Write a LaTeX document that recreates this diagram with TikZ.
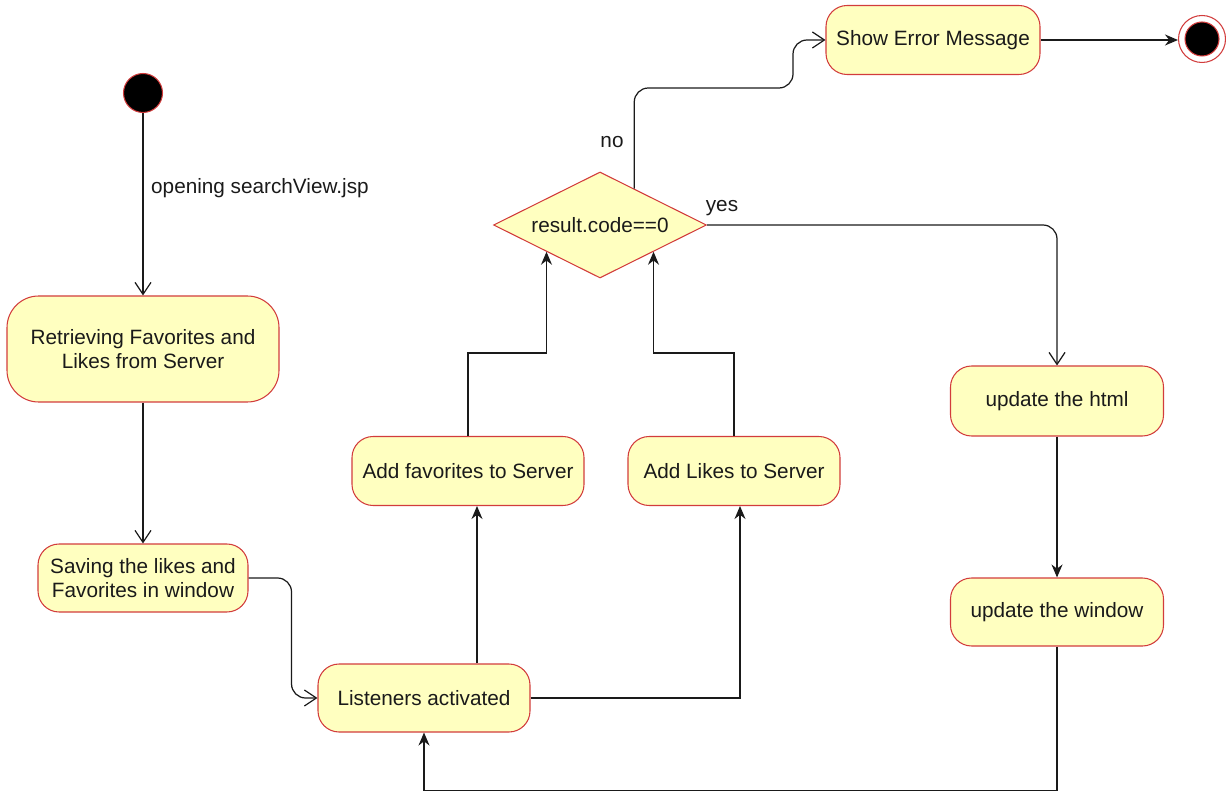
\documentclass[tikz,border=0pt]{standalone}
\usepackage{fontspec}
\setmainfont{Liberation Sans}
\usetikzlibrary{arrows.meta,shapes.geometric,calc}
\definecolor{ink}{HTML}{1A1A1A}
\definecolor{edge}{HTML}{D23C3C}
\definecolor{note}{HTML}{FFFFC0}

\begin{document}
\begin{tikzpicture}[
  text=ink,
  font=\fontsize{11.8}{13.4}\selectfont,
  state/.style={draw=edge, fill=note, line width=.6pt, rounded corners=12pt,
    align=center, inner sep=4pt},
  choice/.style={draw=edge, fill=note, line width=.6pt, shape=diamond, aspect=2,
    inner sep=0pt, minimum width=4.26cm, minimum height=2.12cm},
  dot/.style={circle, draw=edge, fill=black, line width=.6pt, inner sep=0pt},
  flow/.style={-{Straight Barb[length=2.4mm,width=3.2mm]}, draw=ink, line width=.7pt},
  arrow/.style={-{Stealth[length=2.6mm,width=2.2mm]}, draw=ink, line width=.7pt}
]
  \useasboundingbox (0,0) rectangle (24.52,-15.86);
  \node[dot, minimum size=.78cm] (start) at (2.86,-1.86) {};
  \node[state, minimum width=5.44cm, minimum height=2.12cm, rounded corners=18pt] (retrieve) at (2.86,-6.98) {
    Retrieving Favorites and\\Likes from Server
  };
  \node[state, minimum width=4.2cm, minimum height=1.36cm] (saving) at (2.86,-11.56) {
    Saving the likes and\\Favorites in window
  };
  \node[state, minimum width=4.24cm, minimum height=1.36cm] (listen) at (8.48,-13.96) {Listeners activated};
  \node[state, minimum width=4.64cm, minimum height=1.38cm] (addfav) at (9.36,-9.42) {Add favorites to Server};
  \node[state, minimum width=4.24cm, minimum height=1.38cm] (addlike) at (14.68,-9.42) {Add Likes to Server};
  \node[choice] (result) at (12.0,-4.5) {result.code==0};
  \node[state, minimum width=4.28cm, minimum height=1.38cm] (error) at (18.66,-0.80) {Show Error Message};
  \node[circle, draw=edge, fill=white, line width=.6pt, minimum size=.94cm,
    path picture={\filldraw[fill=black, draw=edge, line width=.6pt]
      (path picture bounding box.center) circle (.34cm);}] (stop) at (24.04,-0.78) {};
  \node[state, minimum width=4.26cm, minimum height=1.40cm] (html) at (21.14,-8.02) {update the html};
  \node[state, minimum width=4.26cm, minimum height=1.36cm] (window) at (21.14,-12.24) {update the window};

  % labels on the flows
  \node[anchor=west] (opening) at (2.9,-3.76) {opening searchView.jsp};
  \node (no) at (12.24,-2.84) {no};
  \node (yes) at (14.44,-4.16) {yes};

  \coordinate (noout) at ($(result.north)!.32!(result.east)$);
  \coordinate (favin) at ([xshift=.18cm]addfav.south);
  \coordinate (likein) at ([xshift=.12cm]addlike.south);

  \draw[flow] (start) -- (retrieve);
  \draw[flow] (retrieve) -- (saving);
  \draw[flow, rounded corners=8pt] (saving.east) -- ++(.86,0) |- (listen.west);
  \draw[arrow] (favin |- listen.north) -- (favin);
  \draw[arrow] (listen.east) -| (likein);
  \draw[arrow] (addfav.north) -- ++(0,1.66) -| (result.south west);
  \draw[arrow] (addlike.north) -- ++(0,1.66) -| (result.south east);
  \draw[flow, rounded corners=8pt] (noout) |- (15.86,-1.76) |- (error.west);
  \draw[flow, rounded corners=8pt] (result.east) -| (html.north);
  \draw[arrow] (html) -- (window);
  \draw[arrow] (window.south) -- ++(0,-2.88) -| (listen.south);
  \draw[arrow] (error.east) -- (error.east -| stop.west);
\end{tikzpicture}
\end{document}
